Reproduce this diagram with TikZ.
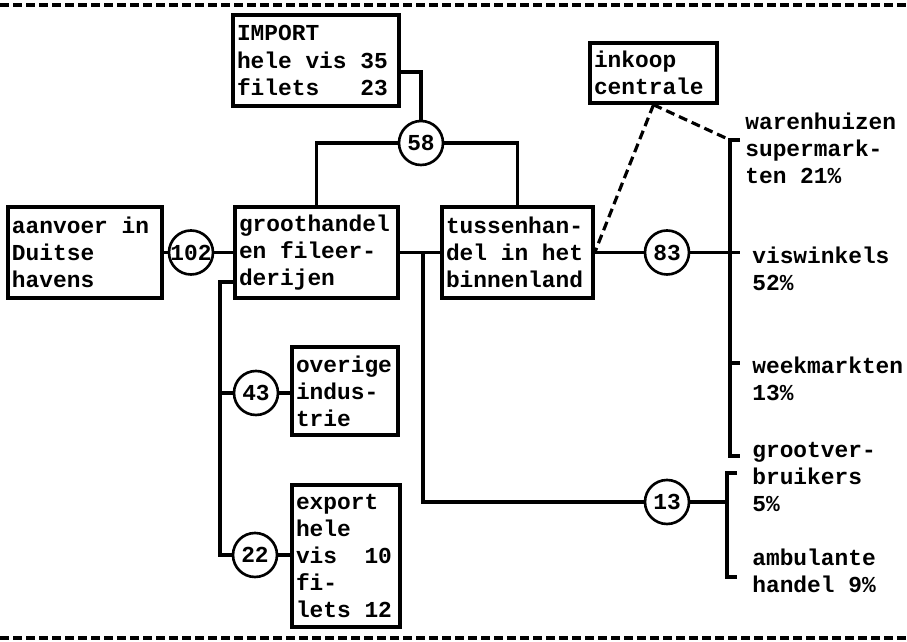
\documentclass[tikz,border=0pt]{standalone}
\usepackage{fontspec}
\setmonofont{Liberation Mono}
\usepackage{tikz}
\newcommand{\tsp}{\hspace{0.6em}}

\begin{document}
\begin{tikzpicture}[x=0.2mm,y=-0.2mm,
 font=\ttfamily\bfseries\fontsize{13}{15.4}\selectfont,
 blok/.style={draw,line width=2pt,align=left,inner xsep=0.8mm,inner ysep=0.8mm},
 getal/.style={circle,draw,line width=1.5pt,minimum size=8.8mm,inner sep=0pt,fill=white},
 tekst/.style={anchor=west,align=left,inner sep=0pt},
 lijn/.style={line width=2pt},
 stippel/.style={line width=1.8pt,dash pattern=on 1.8mm off 1mm},
 rand/.style={line width=2pt,dash pattern=on 1.8mm off 0.8mm}]
\useasboundingbox (0,0) rectangle (907,642);
\draw[rand] (0,5) -- (907,5);
\draw[rand] (0,638) -- (907,638);

\node[blok,text width=31.6mm,minimum height=18.2mm] (Import) at (316,60.5) {IMPORT\\hele\tsp vis\tsp 35\\filets\tsp\tsp\tsp 23};
\node[blok,text width=29.2mm,minimum height=18.2mm] (Aanvoer) at (85,252.5) {aanvoer\tsp in\\Duitse\\havens};
\node[blok,text width=31mm,minimum height=18.2mm] (Groot) at (316.5,252.5) {groothandel\\en\tsp fileer-\\derijen};
\node[blok,text width=28.6mm,minimum height=18.2mm] (Tussen) at (517.5,252.5) {tussenhan-\\del\tsp in\tsp het\\binnenland};
\node[blok,text width=23.8mm,minimum height=12mm] (Inkoop) at (653.5,73) {inkoop\\centrale};
\node[blok,text width=19.6mm,minimum height=17.6mm] (Overig) at (345,391) {overige\\indus-\\trie};
\node[blok,text width=20mm,minimum height=28.4mm] (Export) at (346,556) {export\\hele\\vis\tsp\tsp 10\\fi-\\lets\tsp 12};

\node[getal] (N58) at (421,143) {58};
\node[getal] (N102) at (191,252.5) {102};
\node[getal] (N43) at (256,393) {43};
\node[getal] (N22) at (255,555) {22};
\node[getal] (N83) at (667,252.5) {83};
\node[getal] (N13) at (667,502) {13};

\node[tekst] (Waren) at (745,148) {warenhuizen\\supermark-\\ten\tsp 21\%};
\node[tekst] (Vis) at (752,268.5) {viswinkels\\52\%};
\node[tekst] (Week) at (752,379) {weekmarkten\\13\%};
\node[tekst] (Grootv) at (752,477) {grootver-\\bruikers\\5\%};
\node[tekst] (Ambu) at (752,571) {ambulante\\handel\tsp 9\%};

\coordinate (Knik) at (220,282);
\coordinate (Tak) at (423,252.5);
\coordinate (W1) at (730,140);
\coordinate (W2) at (730,252.5);
\coordinate (W3) at (730,363);
\coordinate (W4) at (730,456);
\coordinate (V1) at (727,473);
\coordinate (V2) at (727,502);
\coordinate (V3) at (727,577);

\draw[lijn] (Aanvoer) -- (N102) -- (Groot);
\draw[lijn] (Groot) -- (Tussen);
\draw[lijn] (Tak) |- (N13);
\draw[lijn] (Groot.west |- Knik) -- (Knik) |- (N22);
\draw[lijn] (Knik |- N43) -- (N43) -- (Overig.west |- N43);
\draw[lijn] (N22) -- (Export.west |- N22);
\draw[lijn] ([yshift=-2.3mm]Import.east) -| (N58);
\draw[lijn] (N58) -| (Groot.north);
\draw[lijn] (N58) -| (Tussen.north);
\draw[lijn] (Tussen) -- (N83) -- ([xshift=2mm]W2);
\draw[lijn] ([xshift=2mm]W1) -- (W1) -- (W4) -- ([xshift=2mm]W4);
\draw[lijn] (W3) -- ([xshift=2mm]W3);
\draw[lijn] ([xshift=2mm]V1) -- (V1) -- (V3) -- ([xshift=2mm]V3);
\draw[lijn] (N13) -- (V2);
\draw[stippel] (Inkoop.south) -- (Tussen.east);
\draw[stippel] (Inkoop.south) -- (W1);
\end{tikzpicture}
\end{document}
